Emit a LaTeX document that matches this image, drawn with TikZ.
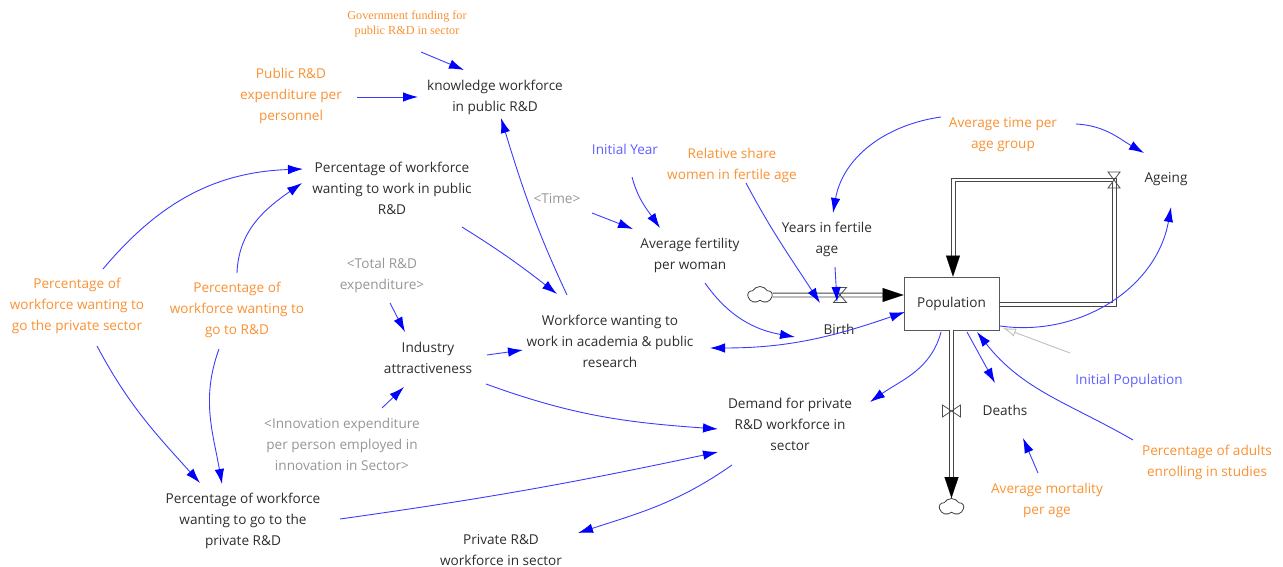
\documentclass[tikz,border=0pt]{standalone}
\usepackage{fontspec}
\setmainfont{Open Sans}
\newfontfamily\govfont{Liberation Serif}
\usetikzlibrary{arrows.meta,shapes.symbols,calc}
\definecolor{txtblack}{RGB}{45,45,45}
\definecolor{txtorange}{RGB}{250,145,50}
\definecolor{txtblue}{RGB}{95,95,255}
\definecolor{txtgray}{RGB}{150,150,150}
\definecolor{linkblue}{RGB}{60,60,255}
\definecolor{headblue}{RGB}{0,0,255}
\definecolor{pipegray}{RGB}{70,70,70}
\tikzset{
 base/.style={align=center, inner sep=1pt, font=\fontsize{13.6}{21}\selectfont},
 var/.style={base, text=txtblack},
 ovar/.style={base, text=txtorange},
 bvar/.style={base, text=txtblue},
 gvar/.style={base, text=txtgray},
 ovarS/.style={align=center, inner sep=1pt, text=txtorange, font=\govfont\fontsize{12.2}{14.5}\selectfont},
 stock/.style={draw=black!65, line width=0.9pt, fill=white, minimum width=95pt, minimum height=53pt, inner sep=0pt, text=txtblack, font=\fontsize{13.6}{21}\selectfont},
 link/.style={draw=linkblue, line width=0.9pt, -{Latex[length=15pt,width=9.5pt,color=headblue]}},
 blink/.style={draw=linkblue, line width=0.9pt, {Latex[length=15pt,width=9.5pt,color=headblue]}-{Latex[length=15pt,width=9.5pt,color=headblue]}},
 glink/.style={draw=black!25, line width=0.9pt, -{Latex[length=13pt,width=8.5pt,open]}},
 pipe/.style={draw=pipegray, double=white, double distance=3pt, line width=0.9pt},
 pipeline/.style={draw=pipegray, line width=0.9pt, line join=miter},
 pipehead/.style={black, line width=0.1pt, -{Triangle[length=21pt,width=14pt,color=black]}},
 valve/.style={draw=black!70, line width=0.8pt},
 cloudn/.style={cloud, cloud puffs=5, cloud puff arc=120, aspect=1.4, draw=black!75, line width=0.8pt, fill=white, minimum width=24pt, minimum height=17pt, inner sep=0pt},
}
\begin{document}
\begin{tikzpicture}[x=1pt,y=1pt]
\path[use as bounding box] (0,0) rectangle (1283,-567);

% ---- variables ----
\node[ovarS] (gov) at (407,-24) {Government funding for\\public R\&D in sector};
\node[ovar] (pubexp) at (291,-96) {Public R\&D\\expenditure per\\personnel};
\node[var] (know) at (495,-97) {knowledge workforce\\in public R\&D};
\node[var] (pctpub) at (392,-188) {Percentage of workforce\\wanting to work in public\\R\&D};
\node[bvar] (inityear) at (625,-149) {Initial Year};
\node[ovar] (relshare) at (732,-165) {Relative share\\women in fertile age};
\node[ovar] (avgtime) at (1003,-135) {Average time per\\age group};
\node[var] (ageing) at (1166,-179) {Ageing};
\node[gvar] (time) at (557,-199) {<Time>};
\node[var] (avgfert) at (690,-255) {Average fertility\\per woman};
\node[var] (years) at (827,-239) {Years in fertile\\age};
\node[var] (birth) at (839,-329) {Birth};
\node[gvar] (totalrd) at (382,-275) {<Total R\&D\\expenditure>};
\node[ovar] (pctprivsec) at (77,-306) {Percentage of\\workforce wanting to\\go the private sector};
\node[ovar] (pctrd) at (237,-310) {Percentage of\\workforce wanting to\\go to R\&D};
\node[var] (academia) at (610,-341) {Workforce wanting to\\work in academia \& public\\research};
\node[var] (industry) at (428,-358) {Industry\\attractiveness};
\node[bvar] (initpop) at (1129,-381) {Initial Population};
\node[var] (deaths) at (1005,-410) {Deaths};
\node[var] (demand) at (790,-424) {Demand for private\\R\&D workforce in\\sector};
\node[gvar] (innov) at (342,-444) {<Innovation expenditure\\per person employed in\\innovation in Sector>};
\node[ovar] (adults) at (1207,-462) {Percentage of adults\\enrolling in studies};
\node[ovar] (mortality) at (1047,-500) {Average mortality\\per age};
\node[var] (pctprivrd) at (243,-521) {Percentage of workforce\\wanting to go to the\\private R\&D};
\node[var] (privwf) at (501,-550) {Private R\&D\\workforce in sector};

% ---- stock and flows ----
\node[stock] (pop) at (951.5,-303.5) {Population};
\coordinate (valA) at (1114,-180);
\coordinate (valB) at (840,-295);
\coordinate (valD) at (951.5,-411);
\coordinate (ageR) at (1114,-304);
\coordinate (ageL) at (953,-180);
\coordinate (ageIn) at (953,-256);
\node[cloudn] (cloudB) at (760,-295) {};
\node[cloudn] (cloudD) at (951.5,-507) {};

\draw[pipe] (cloudB.east) -- ($(pop.west |- valB)+(-21,0)$);
\draw[pipehead] ($(pop.west |- valB)+(-21,0)$) -- (pop.west |- valB);
% ageing pipe: outer and inner rails
\draw[pipeline] ($(pop.east |- ageR)+(0,-1.95)$) -- ($(ageR)+(1.95,-1.95)$) -- ($(valA)+(1.95,1.95)$) -- ($(ageL)+(-1.95,1.95)$) -- ($(ageIn)+(-1.95,0)$);
\draw[pipeline] ($(pop.east |- ageR)+(0,1.95)$) -- ($(ageR)+(-1.95,1.95)$) -- ($(valA)+(-1.95,-1.95)$) -- ($(ageL)+(1.95,-1.95)$) -- ($(ageIn)+(1.95,0)$);
\draw[pipehead] (ageIn) -- (ageIn |- pop.north);
\draw[pipe] (pop.south) -- ($(cloudD.north)+(0,21)$);
\draw[pipehead] ($(cloudD.north)+(0,21)$) -- (cloudD.north);

\draw[valve] (valB) ++(-6.5,7.5) -- ++(13,0) -- ++(-13,-15) -- ++(13,0) -- cycle;
\draw[valve] (valA) ++(-6,8) -- ++(12,0) -- ++(-12,-16) -- ++(12,0) -- cycle;
\draw[valve] (valD) ++(-9,6) -- ++(0,-12) -- ++(18,12) -- ++(0,-12) -- cycle;

% ---- links ----
\draw[link] ([shift={(14,-28)}]gov.center) -- ([shift={(-31,27)}]know.center);
\draw[link] ([shift={(66,-1)}]pubexp.center) -- ([shift={(-77,0)}]know.center);
\draw[link] ([shift={(-43,46)}]academia.center) to[out=115,in=-73] ([shift={(6,-21)}]know.center);
\draw[link] ([shift={(70,-39)}]pctpub.center) to[out=-32,in=142] ([shift={(-53,47)}]academia.center);
\draw[link] ([shift={(26,37)}]pctprivsec.center) to[out=50,in=182] ([shift={(-89,19)}]pctpub.center);
\draw[link] ([shift={(0,37)}]pctrd.center) to[out=88,in=215] ([shift={(-90,5)}]pctpub.center);
\draw[link] ([shift={(20,-40)}]pctprivsec.center) to[out=-62,in=132] ([shift={(-43,38)}]pctprivrd.center);
\draw[link] ([shift={(-18,-39)}]pctrd.center) to[out=-110,in=100] ([shift={(-21,37)}]pctprivrd.center);
\draw[link] ([shift={(8,-28)}]totalrd.center) -- ([shift={(-23,26)}]industry.center);
\draw[link] ([shift={(40,36)}]innov.center) -- ([shift={(-24,-29)}]industry.center);
\draw[link] ([shift={(59,3)}]industry.center) -- ([shift={(-87,-9)}]academia.center);
\draw[link] ([shift={(58,-26)}]industry.center) to[out=-20,in=176] ([shift={(-72,-5)}]demand.center);
\draw[link] ([shift={(97,2)}]pctprivrd.center) to[out=8,in=192] ([shift={(-72,-28)}]demand.center);
\draw[link] ([shift={(-58,-41)}]demand.center) to[out=215,in=18] ([shift={(77,17)}]privwf.center);
\draw[link] ([shift={(-10.5,-28.5)}]pop.center) to[out=-105,in=35] ([shift={(80,22)}]demand.center);
\draw[blink] ([shift={(-46.5,-8.5)}]pop.center) to[out=199,in=0] ([shift={(100,-7)}]academia.center);
\draw[link] ([shift={(15,-28)}]avgfert.center) to[out=-55,in=170] ([shift={(-44,-8)}]birth.center);
\draw[link] ([shift={(35,-14)}]time.center) -- ([shift={(-57,26)}]avgfert.center);
\draw[link] ([shift={(7,-28)}]inityear.center) to[out=-75,in=125] ([shift={(-30,27)}]avgfert.center);
\draw[link] ([shift={(14,-18)}]relshare.center) to[out=-62,in=123] ([shift={(-19,26)}]birth.center);
\draw[link] ([shift={(8,-28)}]years.center) -- ([shift={(-2,27)}]birth.center);
\draw[link] ([shift={(-62,18)}]avgtime.center) to[out=188,in=80] ([shift={(6,26)}]years.center);
\draw[link] ([shift={(73,11)}]avgtime.center) to[out=-3,in=150] ([shift={(-22,26)}]ageing.center);
\draw[link] ([shift={(48.5,-22.5)}]pop.center) to[out=-8,in=-100] ([shift={(5,-28)}]ageing.center);
\draw[glink] ([shift={(-59,28)}]initpop.center) -- ([shift={(51.5,-24.5)}]pop.center);
\draw[link] ([shift={(-74,22)}]adults.center) to[out=150,in=-52] ([shift={(25.5,-28.5)}]pop.center);
\draw[link] ([shift={(15.5,-28.5)}]pop.center) -- ([shift={(-10,27)}]deaths.center);
\draw[link] ([shift={(-9,27)}]mortality.center) -- ([shift={(18,-28)}]deaths.center);
\end{tikzpicture}
\end{document}
